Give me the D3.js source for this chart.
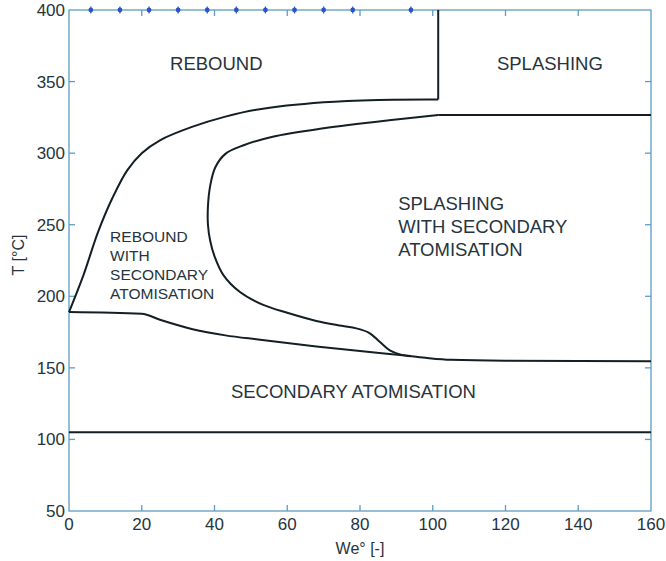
<!DOCTYPE html>
<style>
    body { margin: 0; background: #fff; }
    .axis-line { fill: none; stroke: #5e9cc2; stroke-width: 1.3px; }
    .tick-label { font: 17px "Liberation Sans", Arial, sans-serif; fill: #26343d; }
    .region { font: 18.5px "Liberation Sans", Arial, sans-serif; fill: #26343d; }
    .region-small { font: 15.5px "Liberation Sans", Arial, sans-serif; fill: #26343d; }
    .curve { fill: none; stroke: #121f25; stroke-width: 2px; }
</style>
<body>
<script src="https://cdn.jsdelivr.net/npm/d3@7"></script>
<script>
    // axis ticks
    var xTicks = [0, 20, 40, 60, 80, 100, 120, 140, 160];
    var yTicks = [50, 100, 150, 200, 250, 300, 350, 400];
    // blue markers along the top edge
    var markerWe = [6, 14, 22, 30, 38, 46, 54, 62, 70, 78, 94];

    // boundaries, [We, T]
    var secondaryLine = [[0, 105], [160, 105]];
    var lowerBoundary = [[0, 189], [20, 187.8], [25, 183.6], [34, 177], [43, 172.7], [52, 169.8],
                         [68, 165], [86, 160.2], [91, 159], [98, 157], [105, 155.6], [120, 155], [160, 154.7]];
    var reboundBoundary = [[0, 189], [4, 215], [8, 245], [12, 269], [16, 288], [20, 300], [25, 309],
                           [34, 318.5], [43, 325.5], [52, 330.5], [70, 335.5], [85, 337.2], [101.5, 337.5]];
    var splashDivide = [[101.5, 337.5], [101.5, 400]];
    var splashFloor = [[101.5, 326.6], [160, 326.6]];
    var innerBoundary = [[101.5, 326.6], [88, 323], [70, 317.4], [56, 311.5], [48, 305.5], [43, 299.5],
                         [40.2, 290], [38.8, 277], [38.2, 263], [38.2, 250], [38.8, 239], [40, 228],
                         [42.4, 215], [47, 203], [53.4, 194], [60, 188.5], [68, 182.8],
                         [75, 179.4], [79, 177.6], [82.5, 174.5], [85.5, 168], [88.2, 162.2], [91, 159.4], [94, 158.2]];

    var labels = [
        {lines: ["REBOUND"], we: 40.5, t: 358, anchor: "middle", cls: "region", gap: 23},
        {lines: ["SPLASHING"], we: 132.2, t: 358, anchor: "middle", cls: "region", gap: 23},
        {lines: ["SPLASHING", "WITH SECONDARY", "ATOMISATION"], we: 90.5, t: 260, anchor: "start", cls: "region", gap: 23},
        {lines: ["REBOUND", "WITH", "SECONDARY", "ATOMISATION"], we: 11.3, t: 238, anchor: "start", cls: "region-small", gap: 19},
        {lines: ["SECONDARY ATOMISATION"], we: 78.2, t: 129, anchor: "middle", cls: "region", gap: 23}
    ];

    var width = 666, height = 561;
    var plotL = 69, plotR = 651, plotT = 10, plotB = 511;

    var svg = d3.select("body").append("svg")
        .attr("width", width)
        .attr("height", height);

    var x = d3.scaleLinear().domain([0, 160]).range([plotL, plotR]);
    var y = d3.scaleLinear().domain([50, 400]).range([plotB, plotT]);

    // frame
    svg.append("rect")
        .attr("class", "axis-line")
        .attr("x", plotL).attr("y", plotT)
        .attr("width", plotR - plotL).attr("height", plotB - plotT);

    // inward ticks on all four sides
    var tk = 6;
    svg.append("g").selectAll("line")
        .data(xTicks.slice(1, -1)).enter().append("line")
        .attr("class", "axis-line")
        .attr("x1", x).attr("x2", x)
        .attr("y1", plotB).attr("y2", plotB - tk);
    svg.append("g").selectAll("line")
        .data(xTicks.slice(1, -1)).enter().append("line")
        .attr("class", "axis-line")
        .attr("x1", x).attr("x2", x)
        .attr("y1", plotT).attr("y2", plotT + tk);
    svg.append("g").selectAll("line")
        .data(yTicks.slice(1, -1)).enter().append("line")
        .attr("class", "axis-line")
        .attr("y1", y).attr("y2", y)
        .attr("x1", plotL).attr("x2", plotL + tk);
    svg.append("g").selectAll("line")
        .data(yTicks.slice(1, -1)).enter().append("line")
        .attr("class", "axis-line")
        .attr("y1", y).attr("y2", y)
        .attr("x1", plotR).attr("x2", plotR - tk);

    // tick labels
    svg.append("g").selectAll("text")
        .data(xTicks).enter().append("text")
        .attr("class", "tick-label")
        .attr("x", x).attr("y", plotB + 19)
        .attr("text-anchor", "middle")
        .text(function(d) { return d; });
    svg.append("g").selectAll("text")
        .data(yTicks).enter().append("text")
        .attr("class", "tick-label")
        .attr("x", plotL - 4).attr("y", function(d) { return y(d) + 6; })
        .attr("text-anchor", "end")
        .text(function(d) { return d; });

    // axis titles
    svg.append("text")
        .attr("class", "tick-label")
        .attr("x", (plotL + plotR) / 2).attr("y", 554)
        .attr("text-anchor", "middle")
        .style("font-size", "16px")
        .text("We° [-]");
    svg.append("text")
        .attr("class", "tick-label")
        .attr("transform", "translate(24,255) rotate(-90)")
        .attr("text-anchor", "middle")
        .style("font-size", "16px")
        .text("T [°C]");

    // top markers
    var mk = svg.append("g");
    mk.selectAll("circle")
        .data(markerWe).enter().append("circle")
        .attr("cx", x).attr("cy", plotT)
        .attr("r", 2.4)
        .attr("fill", "#2a55c8");
    mk.selectAll("line")
        .data(markerWe).enter().append("line")
        .attr("x1", x).attr("x2", x)
        .attr("y1", plotT - 3.5).attr("y2", plotT + 3.5)
        .attr("stroke", "#2a55c8").attr("stroke-width", 1.2);

    // boundaries
    var lineX = d3.line()
        .x(function(d) { return x(d[0]); })
        .y(function(d) { return y(d[1]); })
        .curve(d3.curveMonotoneX);
    var lineSmooth = d3.line()
        .x(function(d) { return x(d[0]); })
        .y(function(d) { return y(d[1]); })
        .curve(d3.curveCatmullRom.alpha(0.5));
    var straight = d3.line()
        .x(function(d) { return x(d[0]); })
        .y(function(d) { return y(d[1]); });

    svg.append("path").attr("class", "curve").attr("d", straight(secondaryLine));
    svg.append("path").attr("class", "curve").attr("d", lineX(lowerBoundary));
    svg.append("path").attr("class", "curve").attr("d", lineSmooth(reboundBoundary));
    svg.append("path").attr("class", "curve").attr("d", straight(splashDivide));
    svg.append("path").attr("class", "curve").attr("d", straight(splashFloor));
    svg.append("path").attr("class", "curve").attr("d", lineSmooth(innerBoundary));

    // region labels
    labels.forEach(function(l) {
        var t = svg.append("text")
            .attr("class", l.cls)
            .attr("text-anchor", l.anchor);
        l.lines.forEach(function(s, i) {
            t.append("tspan")
                .attr("x", x(l.we))
                .attr("y", y(l.t) + i * l.gap)
                .text(s);
        });
    });
</script>
</body>
